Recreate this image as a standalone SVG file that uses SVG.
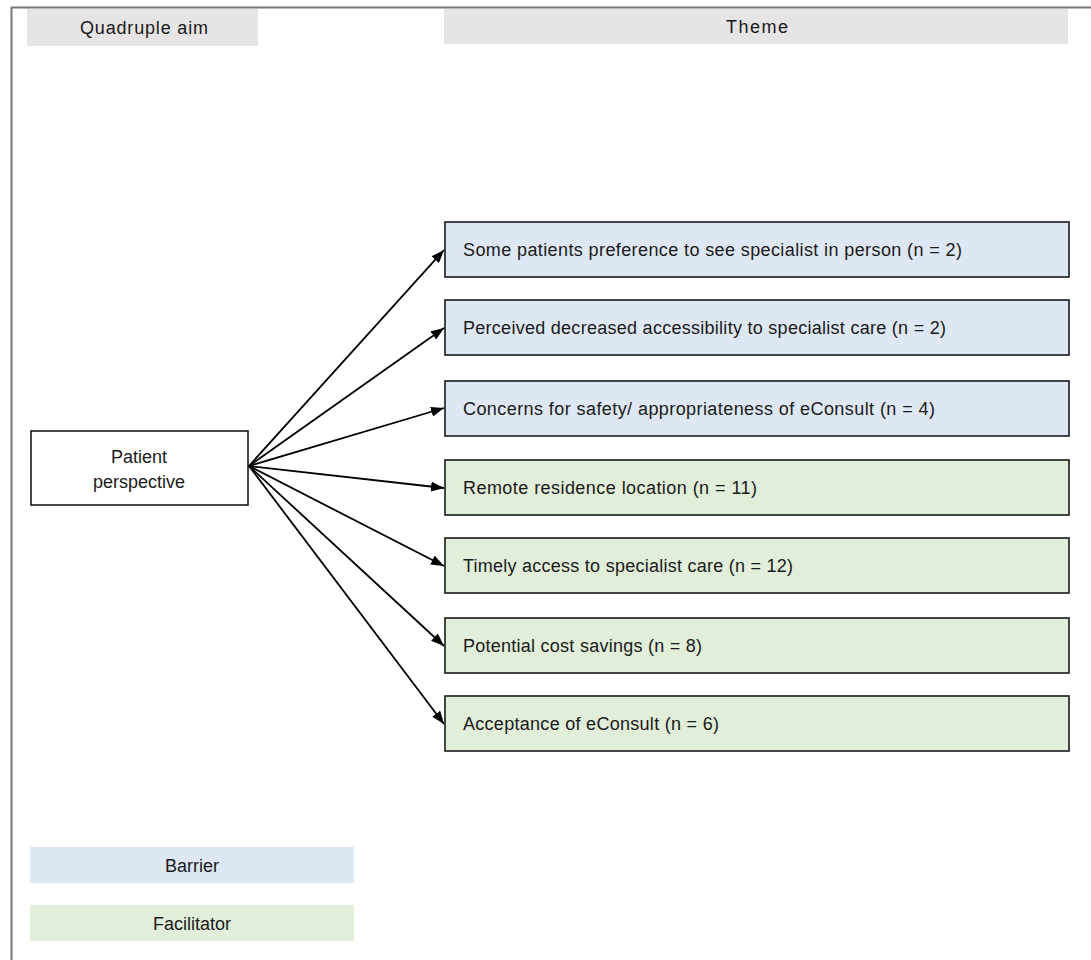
<svg xmlns="http://www.w3.org/2000/svg" width="1091" height="960" viewBox="0 0 1091 960">
<defs>
<style>
text{font-family:"Liberation Sans",Arial,sans-serif;font-size:18px;fill:#1a1a1a}
.hdr{fill:#e6e4e4}
.bar{fill:#dde8f4;stroke:#1a1a1a;stroke-width:1.6}
.fac{fill:#e1eed9;stroke:#1a1a1a;stroke-width:1.6}
.conn line{stroke:#000;stroke-width:1.8;marker-end:url(#ah)}
</style>
<marker id="ah" markerWidth="13" markerHeight="10" refX="13" refY="5" orient="auto" markerUnits="userSpaceOnUse">
<path d="M0,0 L13,5 L0,10 Z" fill="#000"/>
</marker>
</defs>
<rect width="1091" height="960" fill="#fff"/>
<path d="M11.5,960 V7.5 H1091" fill="none" stroke="#777" stroke-width="2"/>
<g id="hdr-aim"><rect class="hdr" x="27" y="9" width="231" height="37"/><text x="80" y="34" textLength="128" lengthAdjust="spacing">Quadruple aim</text></g>
<g id="hdr-theme"><rect class="hdr" x="444" y="9" width="624" height="35"/><text x="726" y="33" textLength="62" lengthAdjust="spacing">Theme</text></g>
<g id="patient"><rect x="31" y="431" width="217" height="74" fill="#fff" stroke="#1a1a1a" stroke-width="1.6"/><text x="139" y="463" text-anchor="middle">Patient</text><text x="139" y="488" text-anchor="middle">perspective</text></g>
<g class="conn" id="connectors">
<line x1="249" y1="466" x2="444" y2="250"/>
<line x1="249" y1="466" x2="444" y2="328"/>
<line x1="249" y1="466" x2="444" y2="408"/>
<line x1="249" y1="466" x2="444" y2="488"/>
<line x1="249" y1="466" x2="444" y2="566"/>
<line x1="249" y1="466" x2="444" y2="646"/>
<line x1="249" y1="466" x2="444" y2="724"/>
</g>
<g id="t1"><rect class="bar" x="445" y="222" width="624" height="55"/><text x="463" y="256" textLength="499" lengthAdjust="spacing">Some patients preference to see specialist in person (n = 2)</text></g>
<g id="t2"><rect class="bar" x="445" y="300" width="624" height="55"/><text x="463" y="334" textLength="483" lengthAdjust="spacing">Perceived decreased accessibility to specialist care (n = 2)</text></g>
<g id="t3"><rect class="bar" x="445" y="381" width="624" height="55"/><text x="463" y="415" textLength="472" lengthAdjust="spacing">Concerns for safety/ appropriateness of eConsult (n = 4)</text></g>
<g id="t4"><rect class="fac" x="445" y="460" width="624" height="55"/><text x="463" y="494" textLength="294" lengthAdjust="spacing">Remote residence location (n = 11)</text></g>
<g id="t5"><rect class="fac" x="445" y="538" width="624" height="55"/><text x="463" y="572" textLength="330" lengthAdjust="spacing">Timely access to specialist care (n = 12)</text></g>
<g id="t6"><rect class="fac" x="445" y="618" width="624" height="55"/><text x="463" y="652" textLength="239" lengthAdjust="spacing">Potential cost savings (n = 8)</text></g>
<g id="t7"><rect class="fac" x="445" y="696" width="624" height="55"/><text x="463" y="730" textLength="256" lengthAdjust="spacing">Acceptance of eConsult (n = 6)</text></g>
<g id="legend-barrier"><rect x="30" y="847" width="324" height="36" fill="#dde8f4"/><text x="192" y="872" text-anchor="middle">Barrier</text></g>
<g id="legend-facilitator"><rect x="30" y="905" width="324" height="36" fill="#e1eed9"/><text x="192" y="930" text-anchor="middle">Facilitator</text></g>
</svg>
